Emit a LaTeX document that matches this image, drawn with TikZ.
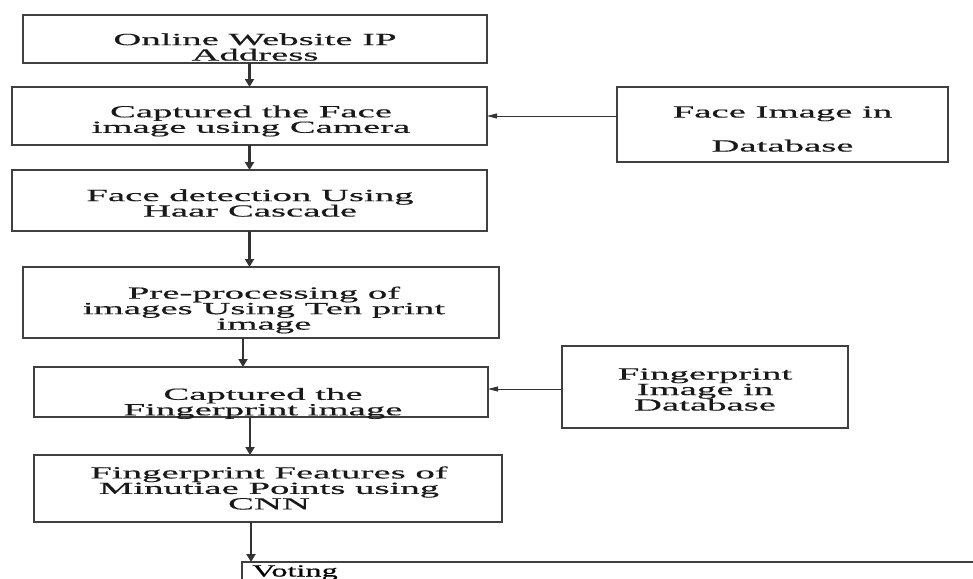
\documentclass[tikz,border=0pt]{standalone}
\usepackage{fontspec}
\setmainfont{Liberation Serif}
\newfontfamily\boxfont[FakeStretch=2.28,FakeBold=0.4]{Liberation Serif}
\newfontfamily\votefont[FakeStretch=1.9,FakeBold=0.4]{Liberation Serif}
\usetikzlibrary{positioning,arrows.meta,calc}

\begin{document}
\begin{tikzpicture}[x=1pt,y=-1pt,>={Triangle[length=8pt,width=9pt]},
  box/.style={draw=black!75,line width=1.3pt,rectangle,inner sep=0pt,outer sep=0pt},
  txt/.style={align=center,inner sep=0pt,text=black!90,font=\boxfont\fontsize{17}{15.5}\selectfont},
  flow/.style={->,line width=2.2pt,draw=black!80},
  feed/.style={-{Triangle[length=10pt,width=5pt]},line width=0.9pt,draw=black!80}]
\clip (0,0) rectangle (973,578);
\fill[white] (0,0) rectangle (973,578);
% main column
\node[box,minimum width=464pt,minimum height=48pt] (web) at (255,39) {};
\node[txt] (webtxt) at (255,47) {Online Website IP\\Address};
\node[box,minimum width=475pt,minimum height=58pt] (cap) at (249.5,116) {};
\node[txt] (captxt) at (251,121) {Captured the Face\\image using Camera};
\node[box,minimum width=475pt,minimum height=61pt] (det) at (249.5,200.5) {};
\node[txt] (dettxt) at (250,203) {Face detection Using\\Haar Cascade};
\node[box,minimum width=476pt,minimum height=71pt] (pre) at (261,302.5) {};
\node[txt] (pretxt) at (264,310) {Pre-processing of\\images Using Ten print\\image};
\node[box,minimum width=454pt,minimum height=50pt] (fcap) at (261,392) {};
\node[txt] (fcaptxt) at (263,403.5) {Captured the\\Fingerprint image};
\node[box,minimum width=468pt,minimum height=67pt] (feat) at (268,488.5) {};
\node[txt] (feattxt) at (269,488) {Fingerprint Features of\\Minutiae Points using\\CNN};
\node[box,anchor=north west,minimum width=760pt,minimum height=60pt] (vote) at (242,562) {};
\node[anchor=base west,inner sep=0pt,font=\votefont\fontsize{17}{15.5}\selectfont] (votetxt) at (252,576.5) {Voting};
% databases
\node[box,minimum width=331pt,minimum height=75pt] (fdb) at (782.5,124.5) {};
\node[txt] (fdbtxt) at (782.5,129) {Face Image in\\[18.5pt]Database};
\node[box,minimum width=286pt,minimum height=82pt] (fpdb) at (705,387) {};
\node[txt] (fpdbtxt) at (705,389.5) {Fingerprint\\Image in\\Database};
% arrows
\draw[flow] (web.south -| cap.north) -- (cap.north);
\draw[flow] (cap.south) -- (det.north);
\draw[flow] (det.south) -- (det.south |- pre.north);
\draw[flow] ([xshift=-18pt]pre.south) -- ([xshift=-18pt]pre.south |- fcap.north);
\draw[flow] ([xshift=-11pt]fcap.south) -- ([xshift=-11pt]fcap.south |- feat.north);
\draw[flow] ([xshift=9pt]vote.north west |- feat.south) -- ([xshift=9pt]vote.north west);
\draw[feed] (cap.east -| fdb.west) -- (cap.east);
\draw[feed] ([yshift=3pt]fcap.east -| fpdb.west) -- ([yshift=3pt]fcap.east);
\end{tikzpicture}
\end{document}
